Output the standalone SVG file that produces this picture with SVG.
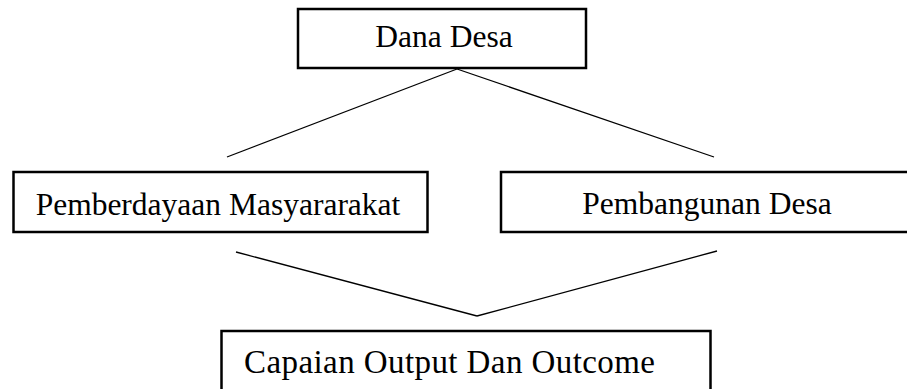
<svg xmlns="http://www.w3.org/2000/svg" width="907" height="389" viewBox="0 0 907 389">
<style>
.box{fill:#fff;stroke:#000;stroke-width:2.5}
.lbl{font-family:"Liberation Serif","Times New Roman",serif;font-size:31.5px;fill:#000;text-anchor:middle}
.conn line{stroke:#000;stroke-width:1.3}
</style>
<rect width="907" height="389" fill="#fff"/>
<g class="conn">
<line x1="457" y1="69" x2="227" y2="157"/>
<line x1="457" y1="69" x2="714" y2="157"/>
<line x1="236" y1="252" x2="477" y2="316"/>
<line x1="477" y1="316" x2="717" y2="251"/>
</g>
<g id="dana-desa">
<rect class="box" x="298" y="9" width="288" height="59"/>
<text class="lbl" x="444" y="47">Dana Desa</text>
</g>
<g id="pemberdayaan">
<rect class="box" x="13.5" y="172" width="414" height="60"/>
<text class="lbl" x="218" y="215">Pemberdayaan Masyararakat</text>
</g>
<g id="pembangunan">
<rect class="box" x="501" y="172" width="420" height="60"/>
<text class="lbl" x="707" y="214">Pembangunan Desa</text>
</g>
<g id="capaian">
<rect class="box" x="221.5" y="331" width="489" height="70"/>
<text class="lbl" x="449.5" y="373" style="font-size:33px" textLength="411" lengthAdjust="spacing">Capaian Output Dan Outcome</text>
</g>
</svg>
